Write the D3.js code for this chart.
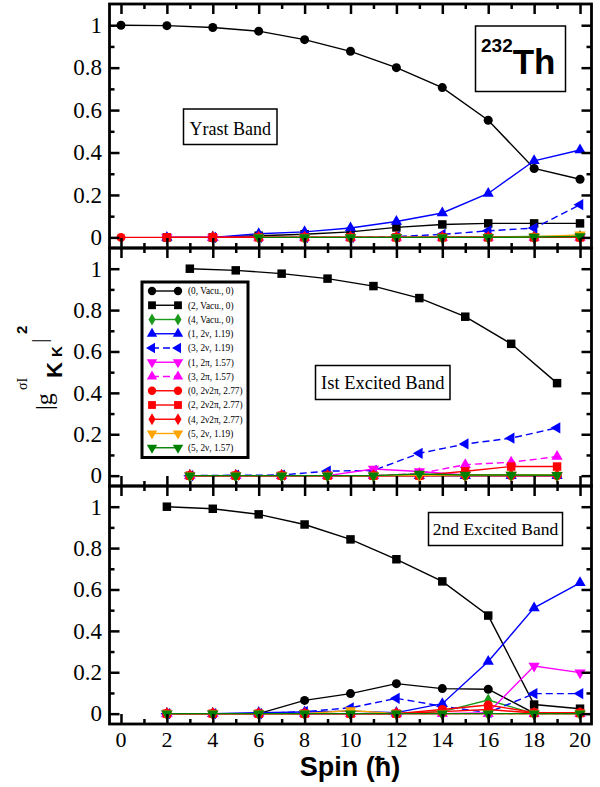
<!DOCTYPE html>
<html>
<head>
<meta charset="utf-8">
<script src="https://cdn.jsdelivr.net/npm/d3@7"></script>
<style>
body { margin: 0; background: #fff; }
</style>
</head>
<body>
<div id="chart"></div>
<script>
const width = 600
const height = 787

// spins sampled in each band
const spinsYrast = [0, 2, 4, 6, 8, 10, 12, 14, 16, 18, 20]
const spinsFirst = [3, 5, 7, 9, 11, 13, 15, 17, 19]
const spinsSecond = [2, 4, 6, 8, 10, 12, 14, 16, 18, 20]

// legend labels (K, configuration, energy)
const seriesLabels = ["(0, Vacu., 0)", "(2, Vacu., 0)", "(4, Vacu., 0)", "(1, 2ν, 1.19)",
  "(3, 2ν, 1.19)", "(1, 2π, 1.57)", "(3, 2π, 1.57)", "(0, 2ν2π, 2.77)",
  "(2, 2ν2π, 2.77)", "(4, 2ν2π, 2.77)", "(5, 2ν, 1.19)", "(5, 2ν, 1.57)"]

// yrast band, one row per legend entry
const yrastValues = [
  [1.0, 0.998, 0.989, 0.972, 0.932, 0.877, 0.80, 0.706, 0.552, 0.325, 0.274],
  [null, 0, 0, 0.008, 0.015, 0.026, 0.047, 0.061, 0.066, 0.066, 0.066],
  [null, null, 0, 0, 0, 0, 0, 0.002, 0.003, 0.004, 0.005],
  [null, 0, 0, 0.017, 0.026, 0.044, 0.075, 0.115, 0.207, 0.361, 0.412],
  [null, null, 0, 0, 0, 0, 0.004, 0.014, 0.031, 0.044, 0.154],
  [null, 0, 0, 0, 0, 0, 0, 0, 0, 0, 0],
  [null, null, 0, 0, 0, 0, 0, 0, 0, 0, 0],
  [0, 0, 0, 0, 0, 0, 0, 0, 0, 0, 0],
  [null, 0, 0, 0, 0, 0, 0, 0, 0, 0, 0],
  [null, null, 0, 0, 0, 0, 0, 0, 0, 0, 0],
  [null, null, null, 0, 0, 0, 0, 0, 0, 0.003, 0.012],
  [null, null, null, 0, 0, 0, 0, 0, 0, 0.002, 0.004]
]

// 1st excited band
const firstValues = [
  [0, 0, 0, 0, 0, 0, 0, 0, 0],
  [1.0, 0.992, 0.976, 0.952, 0.916, 0.858, 0.768, 0.637, 0.447],
  [0, 0, 0, 0, 0, 0.005, 0.003, 0.002, 0.002],
  [0, 0, 0, 0, 0, 0, 0, 0, 0],
  [0, 0.002, 0.003, 0.022, 0.025, 0.108, 0.153, 0.181, 0.231],
  [0, 0, 0, 0, 0.032, 0.02, 0.003, 0, 0],
  [0, 0, 0, 0, 0, 0.01, 0.053, 0.065, 0.092],
  [0, 0, 0, 0, 0, 0, 0, 0, 0],
  [0, 0, 0, 0, 0, 0, 0.021, 0.044, 0.044],
  [0, 0, 0, 0, 0, 0, 0, 0, 0],
  [0, 0, 0, 0, 0, 0.002, 0.002, 0.003, 0.003],
  [0, 0, 0, 0, 0, 0.008, 0.003, 0.003, 0.002]
]

// 2nd excited band
const secondValues = [
  [0, 0, 0, 0.064, 0.097, 0.145, 0.121, 0.118, 0.002, 0.002],
  [1.0, 0.99, 0.963, 0.914, 0.842, 0.746, 0.639, 0.474, 0.044, 0.024],
  [0, 0, 0, 0, 0, 0, 0.01, 0.066, 0, 0],
  [0, 0, 0.005, 0.008, 0.012, 0.005, 0.048, 0.252, 0.511, 0.632],
  [0, 0, 0, 0.01, 0.028, 0.074, 0.036, 0.005, 0.097, 0.097],
  [0, 0, 0, 0, 0, 0, 0, 0.005, 0.23, 0.198],
  [0, 0, 0, 0, 0, 0, 0, 0, 0, 0],
  [0, 0, 0, 0, 0, 0, 0.02, 0.042, 0.005, 0.005],
  [0, 0, 0, 0, 0, 0, 0.01, 0.02, 0.003, 0.003],
  [0, 0, 0, 0, 0, 0, 0, 0, 0, 0],
  [0, 0, 0, 0, 0.015, 0, 0, 0, 0, 0],
  [0, 0, 0, 0, 0, 0, 0, 0, 0, 0]
]

const yTickValues = [0, 0.2, 0.4, 0.6, 0.8, 1]
const yTickLabels = ["0", "0.2", "0.4", "0.6", "0.8", "1"]
const xTickValues = [0, 2, 4, 6, 8, 10, 12, 14, 16, 18, 20]

// styling per legend entry
const colors = ["#000", "#000", "#1a9a1a", "#0000ff", "#0000ff", "#ff00ff", "#ff00ff",
  "#ff0000", "#ff0000", "#ff0000", "#ffa500", "#008000"]
const dashed = [false, false, false, false, true, false, true, false, false, false, false, false]
const shapes = ["circle", "square", "diamond", "up", "left", "down", "up", "circle",
  "square", "diamond", "down", "down"]

const serif = "'Liberation Serif', 'Times New Roman', serif"
const sans = "'Liberation Sans', Arial, sans-serif"

const x = d3.scaleLinear().domain([-0.5, 20.5]).range([109.5, 591.5])

const panels = [
  {spins: spinsYrast, values: yrastValues, top: 4, bottom: 248},
  {spins: spinsFirst, values: firstValues, top: 248, bottom: 486},
  {spins: spinsSecond, values: secondValues, top: 486, bottom: 724}
]

const svg = d3.select("#chart").append("svg")
  .attr("width", width)
  .attr("height", height)
  .attr("viewBox", [0, 0, width, height])

function symbolPath(shape, k) {
  if (shape === "circle") return d3.symbol(d3.symbolCircle, 64 * k)()
  if (shape === "square") return d3.symbol(d3.symbolSquare, 72 * k)()
  if (shape === "diamond") return d3.symbol(d3.symbolDiamond, 50 * k)()
  return d3.symbol(d3.symbolTriangle, 55 * k)()
}
function symbolRotate(shape) {
  if (shape === "down") return 180
  if (shape === "left") return -90
  return 0
}

function drawMarker(g, shape, color, px, py, k = 1) {
  g.append("path")
    .attr("d", symbolPath(shape, k))
    .attr("transform", `translate(${px},${py}) rotate(${symbolRotate(shape)})`)
    .attr("fill", color)
}

panels.forEach((p, pi) => {
  const y = d3.scaleLinear().domain([-0.05, 1.1]).range([p.bottom, p.top])
  const g = svg.append("g")

  // series
  p.values.forEach((vals, si) => {
    const pts = p.spins.map((s, i) => ({spin: s, value: vals[i]}))
    const line = d3.line()
      .defined(d => d.value !== null)
      .x(d => x(d.spin))
      .y(d => y(d.value))
    g.append("path")
      .datum(pts)
      .attr("fill", "none")
      .attr("stroke", colors[si])
      .attr("stroke-width", 1.4)
      .attr("stroke-dasharray", dashed[si] ? "7,4" : null)
      .attr("d", line)
    pts.filter(d => d.value !== null).forEach(d => {
      drawMarker(g, shapes[si], colors[si], x(d.spin), y(d.value))
    })
  })

  // axes: ticks inward on all four sides
  const left = g.append("g").attr("transform", `translate(${x.range()[0]},0)`)
    .call(d3.axisRight(y).tickValues(d3.range(0, 1.05, 0.1)).tickSize(10).tickFormat(""))
  const right = g.append("g").attr("transform", `translate(${x.range()[1]},0)`)
    .call(d3.axisLeft(y).tickValues(d3.range(0, 1.05, 0.1)).tickSize(10).tickFormat(""))
  const bottom = g.append("g").attr("transform", `translate(0,${p.bottom})`)
    .call(d3.axisTop(x).tickValues(d3.range(0, 21, 1)).tickSize(10).tickFormat(""))
  const top = g.append("g").attr("transform", `translate(0,${p.top})`)
    .call(d3.axisBottom(x).tickValues(d3.range(0, 21, 1)).tickSize(10).tickFormat(""))
  ;[left, right, bottom, top].forEach(a => {
    a.select(".domain").remove()
    a.selectAll(".tick line").attr("stroke-width", 2.5)
  })
  // minor ticks shorter
  ;[left, right].forEach((a, k) => {
    a.selectAll(".tick").filter(d => Math.round(d * 10) % 2 === 1)
      .select("line").attr("x2", k === 0 ? 5 : -5)
  })
  ;[bottom, top].forEach((a, k) => {
    a.selectAll(".tick").filter(d => d % 2 === 1)
      .select("line").attr("y2", k === 0 ? -5 : 5)
  })

  // y tick labels
  g.selectAll(".ylab").data(yTickValues).join("text")
    .attr("x", 102)
    .attr("y", d => y(d))
    .attr("dy", "0.34em")
    .attr("text-anchor", "end")
    .attr("font-family", serif)
    .attr("font-size", 23)
    .text((d, i) => yTickLabels[i])

  // frame
  g.append("rect")
    .attr("x", x.range()[0]).attr("y", p.top)
    .attr("width", x.range()[1] - x.range()[0])
    .attr("height", p.bottom - p.top)
    .attr("fill", "none")
    .attr("stroke", "#000")
    .attr("stroke-width", 2.8)

  if (pi === 2) {
    g.selectAll(".xlab").data(xTickValues).join("text")
      .attr("x", d => x(d))
      .attr("y", 747)
      .attr("text-anchor", "middle")
      .attr("font-family", serif)
      .attr("font-size", 22)
      .text(d => d)
  }
})

// band labels in boxes
function boxLabel(x0, y0, w, h, txt, size, base) {
  svg.append("rect").attr("x", x0).attr("y", y0).attr("width", w).attr("height", h)
    .attr("fill", "#fff").attr("stroke", "#000").attr("stroke-width", 1.5)
  svg.append("text").attr("x", x0 + w / 2).attr("y", base)
    .attr("text-anchor", "middle").attr("font-family", serif).attr("font-size", size)
    .text(txt)
}
boxLabel(183.5, 109, 93.5, 35.5, "Yrast Band", 18, 135)
boxLabel(315.5, 365.5, 134.5, 34, "Ist Excited Band", 18.5, 389)
boxLabel(428.5, 512.5, 134, 33, "2nd Excited Band", 17.5, 535)

// nucleus label
svg.append("rect").attr("x", 475.5).attr("y", 26).attr("width", 90).attr("height", 65.5)
  .attr("fill", "#fff").attr("stroke", "#000").attr("stroke-width", 1.5)
const th = svg.append("text").attr("x", 481).attr("y", 74)
  .attr("font-family", sans).attr("font-weight", "bold")
th.append("tspan").attr("font-size", 19).attr("dy", -22).text("232")
th.append("tspan").attr("font-size", 35).attr("dy", 22).text("Th")

// legend
const legend = svg.append("g")
legend.append("rect").attr("x", 142).attr("y", 282).attr("width", 106).attr("height", 175.5)
  .attr("fill", "#fff").attr("stroke", "#000").attr("stroke-width", 3)
seriesLabels.forEach((lab, i) => {
  const ly = 291 + i * 14.25
  legend.append("line").attr("x1", 152).attr("x2", 178).attr("y1", ly).attr("y2", ly)
    .attr("stroke", colors[i]).attr("stroke-width", 1.4)
    .attr("stroke-dasharray", dashed[i] ? "7,4" : null)
  drawMarker(legend, shapes[i], colors[i], 152, ly, 0.85)
  drawMarker(legend, shapes[i], colors[i], 178, ly, 0.85)
  legend.append("text").attr("x", 188).attr("y", ly).attr("dy", "0.35em")
    .attr("font-family", serif).attr("font-size", 9.3).text(lab)
})

// axis titles
svg.append("text").attr("x", 350).attr("y", 776).attr("text-anchor", "middle")
  .attr("font-family", sans).attr("font-weight", "bold").attr("font-size", 27)
  .text("Spin (ħ)")

const ylab = svg.append("g").attr("transform", "translate(52,410) rotate(-90)")
ylab.append("text").attr("x", 0).attr("y", 0).attr("font-family", serif).attr("font-size", 24).text("|g")
ylab.append("text").attr("x", 20).attr("y", -25).attr("font-family", serif).attr("font-size", 14).text("σI")
ylab.append("text").attr("x", 32).attr("y", 10).attr("font-family", sans).attr("font-weight", "bold")
  .attr("font-size", 22).text("K")
ylab.append("text").attr("x", 53).attr("y", 10).attr("font-family", sans).attr("font-weight", "bold")
  .attr("font-size", 15).text("K")
ylab.append("text").attr("x", 67).attr("y", -6).attr("font-family", serif).attr("font-size", 22).text("|")
ylab.append("text").attr("x", 76).attr("y", -25).attr("font-family", sans).attr("font-weight", "bold")
  .attr("font-size", 15).text("2")
</script>
</body>
</html>
